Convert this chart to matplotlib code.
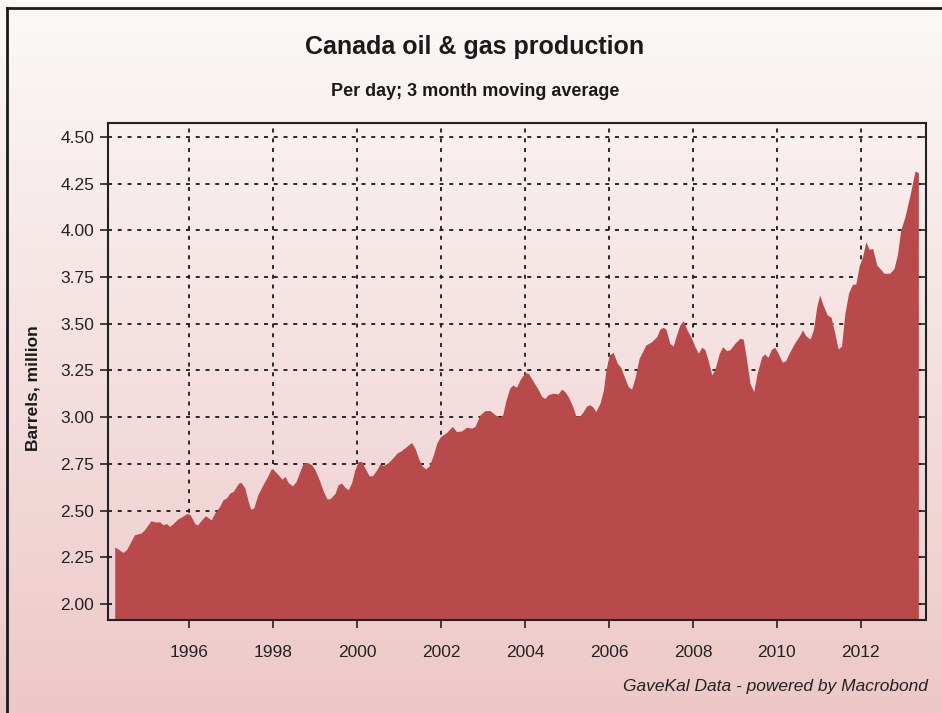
import numpy as np
import matplotlib
matplotlib.use("Agg")
import matplotlib.pyplot as plt
from matplotlib.lines import Line2D

# Canada oil & gas production, million barrels per day (3m moving avg)
years = [
    1994.23, 1994.43, 1994.51, 1994.70, 1994.86, 1994.94, 1995.09, 1995.22, 1995.30, 1995.38,
    1995.46, 1995.54, 1995.62, 1995.74, 1995.82, 1995.94, 1996.02, 1996.14, 1996.20, 1996.30,
    1996.39, 1996.53, 1996.61, 1996.73, 1996.81, 1996.89, 1996.97, 1997.05, 1997.18, 1997.24,
    1997.33, 1997.41, 1997.47, 1997.54, 1997.64, 1997.76, 1997.88, 1997.96, 1998.01, 1998.13,
    1998.21, 1998.29, 1998.36, 1998.46, 1998.55, 1998.64, 1998.72, 1998.82, 1998.92, 1999.00,
    1999.10, 1999.20, 1999.29, 1999.37, 1999.48, 1999.55, 1999.63, 1999.71, 1999.79, 1999.87,
    1999.95, 2000.03, 2000.11, 2000.19, 2000.29, 2000.37, 2000.47, 2000.55, 2000.63, 2000.75,
    2000.87, 2000.95, 2001.06, 2001.18, 2001.30, 2001.38, 2001.48, 2001.56, 2001.64, 2001.72,
    2001.82, 2001.90, 2001.98, 2002.02, 2002.13, 2002.27, 2002.37, 2002.49, 2002.61, 2002.73,
    2002.81, 2002.93, 2003.05, 2003.17, 2003.29, 2003.40, 2003.47, 2003.55, 2003.64, 2003.71,
    2003.80, 2003.88, 2004.00, 2004.08, 2004.20, 2004.32, 2004.40, 2004.48, 2004.55, 2004.67,
    2004.79, 2004.87, 2004.95, 2005.03, 2005.14, 2005.21, 2005.31, 2005.39, 2005.47, 2005.55,
    2005.62, 2005.69, 2005.79, 2005.87, 2005.93, 2006.01, 2006.10, 2006.20, 2006.28, 2006.38,
    2006.46, 2006.54, 2006.62, 2006.72, 2006.88, 2007.02, 2007.14, 2007.21, 2007.29, 2007.36,
    2007.45, 2007.53, 2007.61, 2007.69, 2007.77, 2007.86, 2007.97, 2008.05, 2008.13, 2008.21,
    2008.29, 2008.36, 2008.45, 2008.52, 2008.63, 2008.71, 2008.80, 2008.88, 2009.00, 2009.12,
    2009.20, 2009.28, 2009.36, 2009.45, 2009.53, 2009.64, 2009.71, 2009.79, 2009.87, 2009.95,
    2010.03, 2010.13, 2010.21, 2010.31, 2010.43, 2010.55, 2010.61, 2010.69, 2010.79, 2010.87,
    2010.95, 2011.02, 2011.10, 2011.20, 2011.29, 2011.38, 2011.46, 2011.54, 2011.62, 2011.71,
    2011.80, 2011.88, 2011.96, 2012.04, 2012.12, 2012.20, 2012.28, 2012.38, 2012.50, 2012.55,
    2012.69, 2012.79, 2012.87, 2012.95, 2013.05, 2013.17, 2013.29, 2013.37,
]
barrels = [
    2.305, 2.276, 2.290, 2.370, 2.380, 2.397, 2.445, 2.438, 2.440, 2.424,
    2.430, 2.415, 2.430, 2.456, 2.465, 2.483, 2.480, 2.430, 2.422, 2.450,
    2.472, 2.450, 2.486, 2.522, 2.558, 2.567, 2.593, 2.602, 2.647, 2.650,
    2.620, 2.548, 2.508, 2.513, 2.585, 2.638, 2.686, 2.724, 2.718, 2.690,
    2.668, 2.682, 2.650, 2.632, 2.655, 2.709, 2.754, 2.757, 2.745, 2.718,
    2.665, 2.602, 2.561, 2.565, 2.593, 2.638, 2.647, 2.625, 2.611, 2.647,
    2.718, 2.763, 2.763, 2.727, 2.686, 2.686, 2.718, 2.750, 2.741, 2.757,
    2.786, 2.807, 2.821, 2.843, 2.864, 2.834, 2.771, 2.736, 2.723, 2.739,
    2.798, 2.861, 2.893, 2.900, 2.917, 2.950, 2.923, 2.926, 2.946, 2.941,
    2.950, 3.012, 3.035, 3.035, 3.012, 3.000, 3.012, 3.092, 3.155, 3.172,
    3.160, 3.199, 3.238, 3.235, 3.190, 3.146, 3.110, 3.100, 3.120, 3.128,
    3.124, 3.150, 3.137, 3.110, 3.056, 3.007, 3.007, 3.030, 3.060, 3.066,
    3.053, 3.030, 3.075, 3.146, 3.253, 3.333, 3.347, 3.288, 3.267, 3.208,
    3.163, 3.150, 3.208, 3.315, 3.386, 3.404, 3.431, 3.470, 3.481, 3.470,
    3.395, 3.381, 3.440, 3.493, 3.516, 3.467, 3.422, 3.377, 3.342, 3.374,
    3.360, 3.306, 3.226, 3.253, 3.342, 3.377, 3.356, 3.360, 3.395, 3.422,
    3.417, 3.306, 3.180, 3.137, 3.235, 3.324, 3.338, 3.320, 3.363, 3.374,
    3.342, 3.294, 3.302, 3.350, 3.399, 3.440, 3.467, 3.435, 3.418, 3.467,
    3.591, 3.654, 3.600, 3.547, 3.535, 3.449, 3.365, 3.381, 3.556, 3.666,
    3.711, 3.712, 3.809, 3.858, 3.939, 3.898, 3.903, 3.814, 3.784, 3.770,
    3.770, 3.796, 3.868, 4.001, 4.072, 4.188, 4.318, 4.308,
]
year_ticks = [1996, 1998, 2000, 2002, 2004, 2006, 2008, 2010, 2012]
value_ticks = [2.00, 2.25, 2.50, 2.75, 3.00, 3.25, 3.50, 3.75, 4.00, 4.25, 4.50]

plt.rcParams['font.family'] = ['Liberation Sans', 'DejaVu Sans']

fig = plt.figure(figsize=(9.42, 7.13), dpi=100)

# gradient background (white at top, pink at bottom)
bg = fig.add_axes([0, 0, 1, 1], zorder=-10)
top = np.array([251, 249, 248]) / 255
bot = np.array([238, 200, 200]) / 255
t = np.linspace(0, 1, 256)[:, None]
grad = top[None, :] * (1 - t) + bot[None, :] * t
bg.imshow(grad[:, None, :], aspect='auto', extent=[0, 1, 0, 1])
bg.axis('off')

# frame lines on left / top
fig.add_artist(Line2D([6.5 / 942, 6.5 / 942], [0, 1 - 8 / 713], color='#1a1a1a', lw=2))
fig.add_artist(Line2D([6.5 / 942, 1], [1 - 8 / 713, 1 - 8 / 713], color='#1a1a1a', lw=2))

ax = fig.add_axes([108 / 942, 1 - 620 / 713, (925.5 - 108) / 942, (620 - 122.5) / 713])
ax.patch.set_alpha(0)

ax.fill_between(years, barrels, 1.0, color='#B84A4C', lw=0, zorder=3)

ax.set_xlim(1994.07, 2013.54)
ax.set_ylim(1.914, 4.577)
ax.set_xticks(year_ticks)
ax.set_yticks(value_ticks)
ax.set_yticklabels([f'{v:.2f}' for v in value_ticks])

ax.grid(True, color='#1a1a1a', linestyle=(0, (2.2, 3.2)), lw=1.3, zorder=1)
ax.set_axisbelow(True)

for s in ax.spines.values():
    s.set_color('#222222')
    s.set_linewidth(1.5)
    s.set_zorder(5)

ax.tick_params(axis='both', which='major', direction='out', length=6, width=1.2,
               color='#222222', labelcolor='#222222', labelsize=12.5)
ax.tick_params(axis='x', pad=12)
ax.tick_params(axis='y', pad=4)

# inward ticks on the right side
ax2 = ax.twinx()
ax2.set_ylim(ax.get_ylim())
ax2.set_yticks(value_ticks)
ax2.tick_params(axis='y', direction='in', length=5, width=1.2, color='#222222', labelright=False)
for s in ax2.spines.values():
    s.set_visible(False)

fig.text(33 / 942, 1 - 388 / 713, 'Barrels, million', rotation=90,
         ha='center', va='center', fontsize=12.5, fontweight='bold', color='#1a1a1a')

fig.text(475 / 942, 1 - 47 / 713, 'Canada oil & gas production',
         ha='center', va='center', fontsize=18, fontweight='bold', color='#1a1a1a')
fig.text(475 / 942, 1 - 92 / 713, 'Per day; 3 month moving average',
         ha='center', va='center', fontsize=13, fontweight='bold', color='#1a1a1a')
fig.text(928 / 942, 1 - 686 / 713, 'GaveKal Data - powered by Macrobond',
         ha='right', va='center', fontsize=12.5, style='italic', color='#222222')

fig.savefig('out.png', dpi=100)
